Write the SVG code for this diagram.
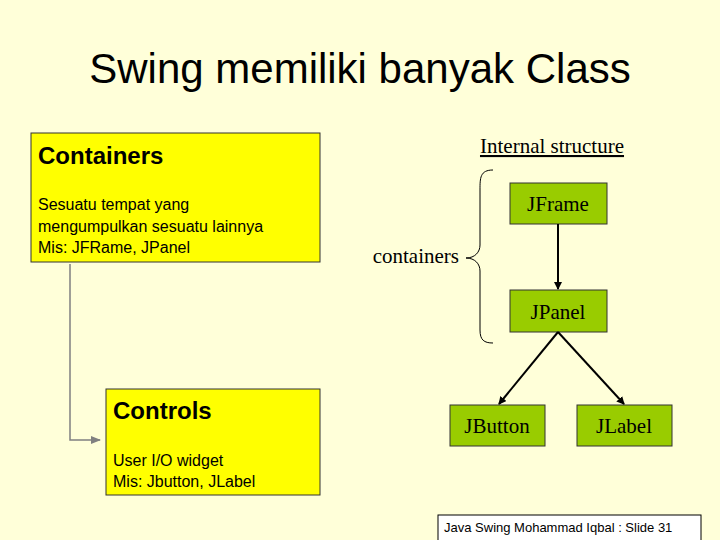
<svg xmlns="http://www.w3.org/2000/svg" width="720" height="540" viewBox="0 0 720 540">
<defs>
<style>
.box{fill:#ffff00;stroke:#333;stroke-width:1}
.node{fill:#99cc00;stroke:#333;stroke-width:1}
.ser{font-family:"Liberation Serif",serif;font-size:21px;fill:#000}
.sans{font-family:"Liberation Sans",sans-serif;fill:#000}
</style>
<marker id="ah" markerWidth="8" markerHeight="8" refX="7" refY="4" orient="auto" markerUnits="userSpaceOnUse"><path d="M0,0 L8,4 L0,8 z" fill="#000"/></marker>
<marker id="ag" markerWidth="10" markerHeight="8" refX="9" refY="4" orient="auto" markerUnits="userSpaceOnUse"><path d="M0,0 L10,4 L0,8 z" fill="#808080"/></marker>
</defs>
<rect width="720" height="540" fill="#ffffd9"/>
<text x="360" y="83" text-anchor="middle" class="sans" font-size="42">Swing memiliki banyak Class</text>
<g id="containers-box">
<rect class="box" x="31" y="133" width="289" height="129"/>
<text x="38" y="164" class="sans" font-size="24" font-weight="bold">Containers</text>
<text class="sans" font-size="16"><tspan x="38" y="210">Sesuatu tempat yang</tspan><tspan x="38" y="232">mengumpulkan sesuatu lainnya</tspan><tspan x="38" y="253">Mis: JFRame, JPanel</tspan></text>
</g>
<g id="controls-box">
<rect class="box" x="106" y="389" width="214" height="106"/>
<text x="113" y="419" class="sans" font-size="24" font-weight="bold">Controls</text>
<text class="sans" font-size="16"><tspan x="113" y="466">User I/O widget</tspan><tspan x="113" y="487">Mis: Jbutton, JLabel</tspan></text>
</g>
<text x="552" y="153" text-anchor="middle" class="ser" text-decoration="underline">Internal structure</text>
<g id="brace">
<path d="M493,170 C480,170 480,178 480,190 L480,245 C480,252 475,258 466,258 C475,258 480,264 480,271 L480,330 C480,340 484,343 493,343" fill="none" stroke="#000" stroke-width="1"/>
<text x="459" y="263" text-anchor="end" class="ser">containers</text>
</g>
<g id="JFrame"><rect class="node" x="510" y="183" width="97" height="41"/><text x="558" y="211" text-anchor="middle" class="ser">JFrame</text></g>
<g id="JPanel"><rect class="node" x="510" y="290" width="97" height="42"/><text x="558" y="319" text-anchor="middle" class="ser">JPanel</text></g>
<g id="JButton"><rect class="node" x="450" y="405" width="95" height="41"/><text x="497" y="433" text-anchor="middle" class="ser">JButton</text></g>
<g id="JLabel"><rect class="node" x="577" y="405" width="95" height="41"/><text x="624" y="433" text-anchor="middle" class="ser">JLabel</text></g>
<g id="connectors" fill="none">
<line x1="558" y1="224" x2="558" y2="289" stroke="#000" stroke-width="2" marker-end="url(#ah)"/>
<line x1="558" y1="332" x2="499" y2="404" stroke="#000" stroke-width="2" marker-end="url(#ah)"/>
<line x1="558" y1="332" x2="624" y2="404" stroke="#000" stroke-width="2" marker-end="url(#ah)"/>
<path d="M70,264 L70,440 L100,440" stroke="#808080" stroke-width="1.5" marker-end="url(#ag)"/>
</g>
<g id="footer">
<rect x="438" y="515" width="263" height="26" fill="#fff" stroke="#000" stroke-width="1"/>
<text x="444" y="532" class="sans" font-size="13">Java Swing Mohammad Iqbal : Slide 31</text>
</g>
</svg>
